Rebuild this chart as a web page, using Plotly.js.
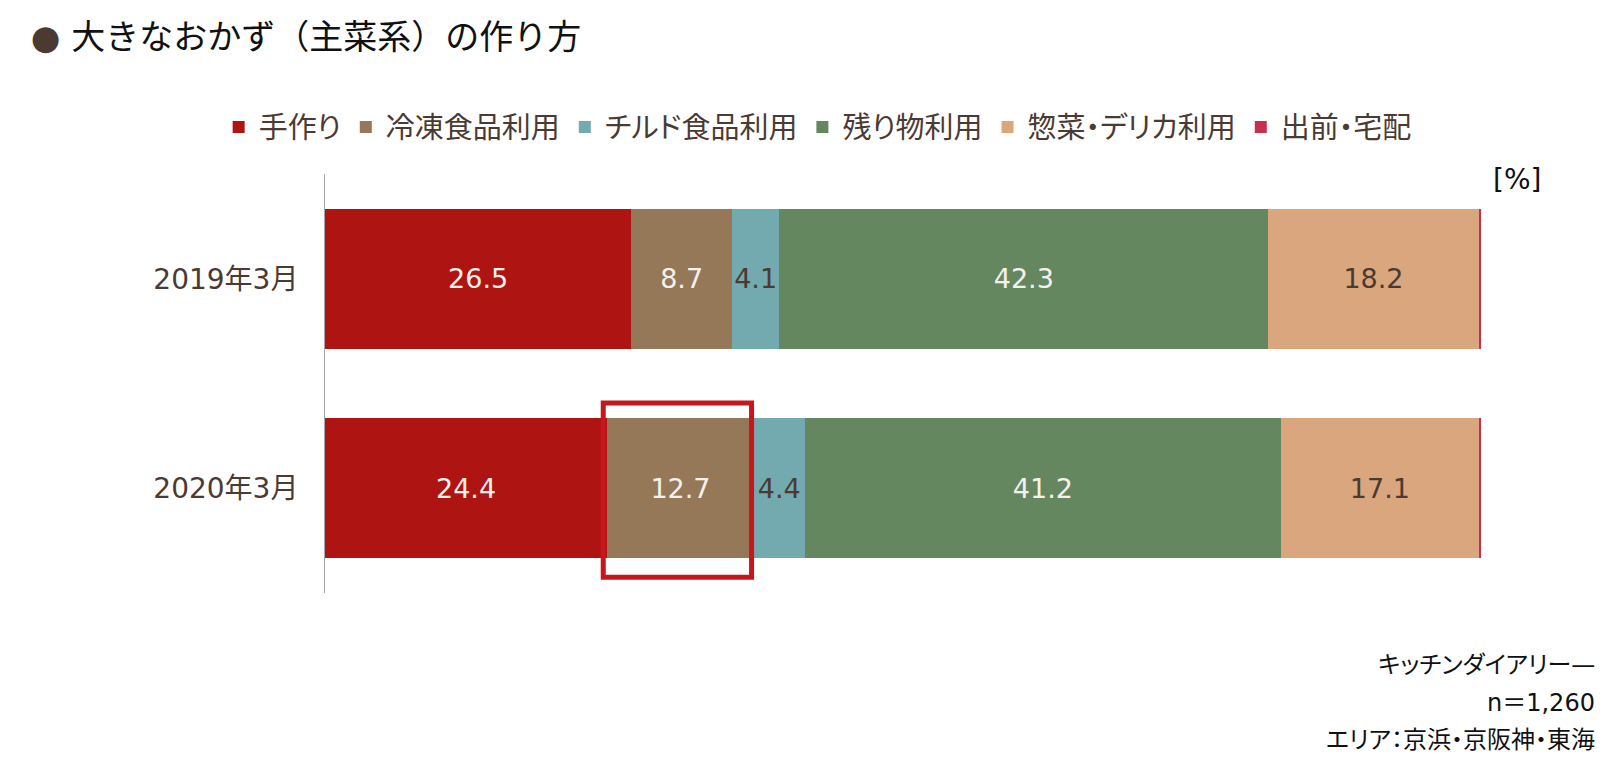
<!DOCTYPE html>
<html>
<head>
<meta charset="utf-8">
<script src="https://cdn.plot.ly/plotly-3.0.1.min.js"></script>
<style>
  html, body { margin: 0; padding: 0; background: #fff; }
  #chart { width: 1617px; height: 769px; }
  svg text { font-feature-settings: "palt" 1; }
  svg .gtitle { font-feature-settings: "palt" 0; }
</style>
</head>
<body>
<div id="chart"></div>
<script>
// ---- data ----
const categories = ['2019年3月', '2020年3月'];
const seriesNames = ['手作り', '冷凍食品利用', 'チルド食品利用', '残り物利用', '惣菜・デリカ利用', '出前・宅配'];
const handmade  = [26.5, 24.4];
const frozen    = [8.7, 12.7];
const chilled   = [4.1, 4.4];
const leftovers = [42.3, 41.2];
const deli      = [18.2, 17.1];
const delivery  = [0.2, 0.2];
const titleText = '大きなおかず（主菜系）の作り方';
const footnotes = ['キッチンダイアリー—', 'n＝1,260', 'エリア：京浜・京阪神・東海'];
const unitLabel = '[%]';
const highlightCategory = 1;   // 2020年3月
const highlightSeries = 1;     // 冷凍食品利用

// ---- styles ----
const FONT = 'DejaVu Sans, Noto Sans CJK JP, sans-serif';
const BROWN = '#4B3A32';
const LIGHT = '#F4F1EC';
const colors = ['#AE1411', '#957857', '#72AAAF', '#64875F', '#DAA67E', '#C6304E'];
const textColors = [LIGHT, LIGHT, BROWN, LIGHT, BROWN, BROWN];
const allValues = [handmade, frozen, chilled, leftovers, deli, delivery];

const traces = allValues.map((vals, i) => ({
  type: 'bar',
  orientation: 'h',
  name: seriesNames[i],
  y: categories,
  x: vals,
  marker: { color: colors[i], line: { width: 0 } },
  text: vals.map(v => v.toFixed(1)),
  textposition: i === 5 ? 'none' : 'inside',
  insidetextanchor: 'middle',
  textangle: 0,
  constraintext: 'none',
  insidetextfont: { family: FONT, size: 27, color: textColors[i] },
  hoverinfo: 'name+x'
}));

// highlight box around frozen segment of 2020
let start = 0;
for (let k = 0; k < highlightSeries; k++) start += allValues[k][highlightCategory];
const end = start + allValues[highlightSeries][highlightCategory];

const layout = {
  width: 1617,
  height: 769,
  paper_bgcolor: '#ffffff',
  plot_bgcolor: '#ffffff',
  font: { family: FONT, color: BROWN },
  margin: { l: 325, r: 136, t: 174, b: 176, pad: 0 },
  barmode: 'stack',
  bargap: 0.332,
  showlegend: true,
  title: {
    text: '<span style="color:' + BROWN + '">●</span> ' + titleText,
    font: { family: FONT, size: 34, color: '#111111' },
    xref: 'container', x: 0.019, xanchor: 'left',
    yref: 'container', y: 0.952, yanchor: 'middle'
  },
  legend: {
    orientation: 'h',
    x: -0.092, xanchor: 'left',
    y: 1.112, yanchor: 'middle',
    font: { family: FONT, size: 29, color: BROWN },
    traceorder: 'normal',
    bgcolor: 'rgba(0,0,0,0)'
  },
  xaxis: {
    range: [0, 100],
    visible: false,
    fixedrange: true
  },
  yaxis: {
    type: 'category',
    autorange: 'reversed',
    showline: true,
    linecolor: '#A6A6A6',
    linewidth: 1,
    showgrid: false,
    zeroline: false,
    ticks: '',
    ticklabelstandoff: 20,
    tickfont: { family: FONT, size: 28, color: BROWN },
    fixedrange: true
  },
  shapes: [{
    type: 'rect',
    xref: 'x', yref: 'y',
    x0: start - 0.33, x1: end - 0.2,
    y0: highlightCategory - 0.407, y1: highlightCategory + 0.425,
    line: { color: '#C8161D', width: 5 },
    fillcolor: 'rgba(0,0,0,0)',
    layer: 'above'
  }],
  annotations: [
    {
      text: unitLabel, xref: 'paper', yref: 'paper',
      x: 1.031, y: 0.988, xanchor: 'center', yanchor: 'middle',
      showarrow: false, font: { family: FONT, size: 28, color: '#111111' }
    }
  ].concat(footnotes.map((t, i) => ({
    text: t, xref: 'paper', yref: 'paper',
    x: 1.1003, y: [-0.1718, -0.2625, -0.351][i],
    xanchor: 'right', yanchor: 'middle',
    showarrow: false, font: { family: FONT, size: 24, color: '#111111' }
  })))
};

Plotly.newPlot('chart', traces, layout, { displayModeBar: false, staticPlot: false });
</script>
</body>
</html>
